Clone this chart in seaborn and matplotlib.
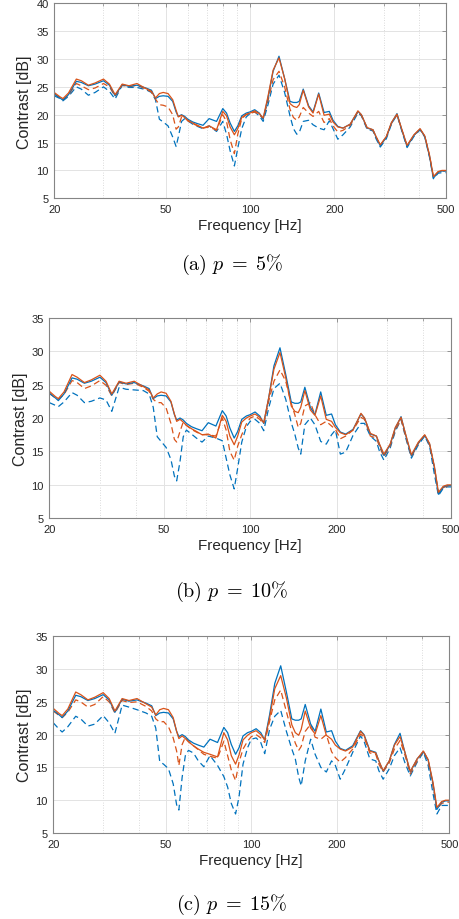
import numpy as np
import pandas as pd
import matplotlib
matplotlib.use("Agg")
import matplotlib.pyplot as plt
import seaborn as sns
from matplotlib.ticker import FixedLocator, FixedFormatter, NullFormatter

# ---------------- data ----------------
FREQ = [20, 21, 21.5, 22.5, 24, 25, 26.5, 28, 30, 31.5,
        33, 35, 37, 39.5, 42.5, 44.5, 46, 47.5, 49, 51,
        53, 54.5, 55.5, 57, 58.5, 60, 62.5, 65, 68, 71.5,
        76, 80, 82.5, 85, 88, 90.5, 93.5, 97, 100, 104,
        108, 111.5, 116, 121, 127, 133, 139, 143, 147, 150,
        155, 162, 168, 176, 184, 192, 198, 206, 215, 228,
        243, 250, 262, 275, 282, 292, 307, 320, 335, 348,
        364, 385, 405, 421, 438, 452, 470, 485, 500]

BLUE_SOLID = [23.7, 23.0, 22.6, 23.6, 26.0, 25.8, 25.2, 25.5, 26.1, 25.3,
              23.4, 25.4, 25.1, 25.3, 24.8, 24.4, 22.9, 23.3, 23.4, 23.3,
              22.4, 20.5, 19.7, 20.0, 19.7, 19.2, 18.7, 18.4, 18.1, 19.3,
              18.8, 21.1, 20.3, 18.5, 17.0, 18.0, 19.8, 20.3, 20.5, 20.9,
              20.3, 19.2, 23.0, 27.8, 30.5, 26.5, 22.4, 22.2, 22.2, 22.4,
              24.6, 21.6, 20.5, 23.9, 20.4, 20.6, 19.0, 17.9, 17.6, 18.3,
              20.6, 20.0, 17.6, 17.3, 16.0, 14.4, 16.0, 18.5, 20.2, 17.4,
              14.3, 16.3, 17.4, 16.1, 12.5, 8.6, 9.7, 9.9, 9.9]

A_ORANGE_SOLID = [24.0, 23.2, 22.9, 23.9, 26.4, 26.1, 25.3, 25.7, 26.4, 25.5,
                  23.6, 25.5, 25.2, 25.6, 24.7, 24.2, 23.0, 23.8, 24.0, 23.8,
                  22.7, 20.8, 19.6, 19.9, 19.5, 19.0, 18.5, 18.1, 17.6, 18.0,
                  17.3, 20.6, 19.8, 17.8, 16.4, 17.5, 19.5, 20.1, 20.3, 20.7,
                  20.2, 19.4, 23.3, 28.0, 30.2, 26.5, 22.0, 21.5, 21.3, 21.8,
                  24.4, 21.4, 20.3, 23.7, 19.9, 20.1, 18.7, 17.8, 17.6, 18.3,
                  20.7, 20.0, 17.7, 17.3, 16.1, 14.6, 16.1, 18.6, 20.1, 17.5,
                  14.5, 16.4, 17.5, 16.2, 12.7, 8.9, 9.8, 10.0, 10.0]
A_ORANGE_DASH = [23.8, 23.0, 22.7, 23.5, 25.6, 25.2, 24.5, 24.8, 25.6, 25.0,
                 23.3, 25.3, 25.0, 25.3, 24.6, 24.1, 22.8, 21.8, 21.7, 21.4,
                 20.0, 17.4, 17.8, 19.6, 19.5, 18.9, 18.4, 18.0, 17.6, 17.8,
                 17.2, 20.0, 18.8, 15.5, 13.0, 16.5, 19.3, 20.0, 20.2, 20.5,
                 20.0, 19.3, 22.5, 26.3, 27.8, 25.0, 21.0, 19.5, 19.0, 19.6,
                 21.3, 20.3, 19.7, 20.6, 18.6, 19.3, 18.0, 16.9, 17.2, 18.1,
                 20.5, 19.9, 17.6, 17.2, 16.0, 14.5, 16.0, 18.4, 20.0, 17.4,
                 14.4, 16.3, 17.4, 16.1, 12.6, 8.8, 9.7, 9.9, 9.9]
A_BLUE_DASH = [23.4, 22.9, 22.5, 23.3, 25.0, 24.6, 23.5, 24.0, 25.0, 24.2,
               22.8, 25.3, 24.9, 24.9, 24.5, 24.0, 22.7, 19.2, 18.7, 18.0,
               16.0, 14.3, 16.0, 18.8, 19.3, 18.9, 18.3, 17.9, 17.5, 18.0,
               17.0, 18.8, 16.5, 13.5, 10.8, 14.0, 17.5, 19.6, 20.2, 20.5,
               19.8, 18.8, 21.8, 25.5, 27.1, 24.0, 19.8, 17.5, 16.5, 16.8,
               18.8, 19.0, 18.2, 17.6, 17.3, 18.9, 17.5, 15.6, 16.4, 17.8,
               20.3, 19.8, 17.4, 17.1, 15.7, 14.2, 15.7, 18.3, 20.0, 17.2,
               14.1, 16.1, 17.3, 16.0, 12.3, 8.5, 9.5, 9.6, 9.6]

B_ORANGE_SOLID = [24.0, 23.2, 22.9, 23.9, 26.5, 26.1, 25.3, 25.7, 26.4, 25.5,
                  23.6, 25.5, 25.2, 25.5, 24.7, 24.2, 23.0, 23.6, 23.9, 23.7,
                  22.5, 20.6, 19.5, 19.8, 19.4, 18.9, 18.4, 18.0, 17.5, 17.6,
                  17.0, 20.4, 19.5, 17.3, 16.0, 17.3, 19.4, 20.0, 20.3, 20.6,
                  20.1, 19.3, 23.0, 27.3, 29.8, 26.0, 21.8, 21.0, 20.8, 21.6,
                  24.1, 21.2, 20.4, 23.3, 19.8, 19.5, 18.6, 17.8, 17.5, 18.2,
                  20.7, 20.0, 17.7, 17.3, 16.1, 14.6, 16.1, 18.6, 20.1, 17.5,
                  14.5, 16.4, 17.5, 16.2, 12.7, 8.9, 9.8, 10.0, 10.0]
B_ORANGE_DASH = [23.7, 23.0, 22.8, 23.5, 25.6, 25.3, 24.4, 24.8, 25.6, 24.9,
                 23.3, 25.3, 25.0, 25.2, 24.6, 24.0, 22.8, 22.3, 22.3, 21.5,
                 19.2, 16.8, 16.4, 18.0, 19.4, 18.9, 18.3, 17.9, 17.5, 17.5,
                 17.3, 20.0, 18.2, 15.0, 13.7, 15.8, 17.5, 19.1, 20.0, 20.3,
                 19.8, 19.1, 22.5, 25.5, 27.2, 25.5, 22.2, 20.5, 18.6, 19.2,
                 21.8, 22.3, 20.5, 19.0, 19.5, 18.8, 18.3, 16.9, 17.3, 18.2,
                 20.1, 19.8, 17.3, 17.0, 15.7, 14.2, 15.8, 18.2, 19.8, 17.2,
                 14.2, 16.2, 17.4, 16.0, 12.5, 8.8, 9.6, 9.8, 9.8]
B_BLUE_DASH = [22.3, 21.9, 21.7, 22.4, 23.8, 23.4, 22.3, 22.5, 23.0, 22.7,
               21.0, 24.6, 24.3, 24.2, 24.1, 23.6, 21.6, 17.2, 16.5, 15.6,
               13.8, 11.3, 10.6, 13.5, 17.2, 18.2, 17.6, 17.0, 16.4, 17.3,
               17.0, 16.6, 14.0, 11.5, 9.4, 12.5, 16.4, 18.7, 19.5, 19.8,
               19.2, 18.1, 21.5, 24.4, 25.2, 22.8, 19.3, 17.6, 15.5, 14.6,
               19.0, 20.0, 19.0, 16.5, 16.1, 17.5, 18.2, 14.6, 14.9, 17.4,
               19.2, 19.2, 17.3, 16.5, 15.0, 13.7, 15.5, 18.0, 19.8, 17.0,
               14.0, 16.0, 17.3, 15.8, 11.5, 8.4, 9.5, 9.7, 9.7]

C_ORANGE_SOLID = [24.0, 23.2, 22.9, 23.9, 26.5, 26.1, 25.3, 25.7, 26.4, 25.5,
                  23.6, 25.5, 25.2, 25.5, 24.7, 24.2, 23.0, 23.8, 24.0, 23.8,
                  22.6, 20.5, 19.4, 19.8, 19.4, 18.9, 18.3, 17.8, 17.3, 17.0,
                  16.6, 20.3, 19.2, 16.8, 15.5, 16.9, 19.2, 19.9, 20.3, 20.6,
                  20.0, 19.2, 22.5, 27.0, 29.0, 25.6, 21.5, 20.3, 19.9, 20.8,
                  23.6, 21.0, 20.1, 22.9, 19.9, 19.3, 18.4, 17.8, 17.5, 18.1,
                  20.5, 19.9, 17.5, 17.2, 16.0, 14.5, 16.0, 18.4, 19.7, 17.4,
                  14.4, 16.3, 17.5, 16.2, 12.7, 8.9, 9.8, 10.0, 10.0]
C_ORANGE_DASH = [23.6, 22.9, 22.6, 23.4, 25.3, 25.0, 24.2, 24.6, 25.8, 25.0,
                 23.3, 25.2, 24.9, 25.0, 24.3, 23.6, 22.4, 21.9, 22.0, 21.2,
                 19.5, 17.5, 15.3, 18.5, 19.6, 19.0, 18.3, 17.7, 17.0, 16.7,
                 16.4, 19.0, 16.8, 14.6, 13.0, 15.8, 17.8, 19.0, 19.7, 20.0,
                 19.5, 18.8, 22.0, 25.3, 26.8, 23.5, 20.4, 18.7, 17.6, 18.2,
                 20.5, 21.6, 19.6, 19.3, 20.0, 17.4, 16.5, 15.8, 16.5, 17.8,
                 20.1, 19.6, 17.2, 17.0, 15.5, 14.3, 15.7, 17.8, 19.1, 17.0,
                 14.0, 16.0, 17.5, 16.0, 12.2, 8.7, 9.5, 9.7, 9.7]
C_BLUE_DASH = [21.8, 20.8, 20.4, 21.2, 22.8, 22.4, 21.3, 21.6, 22.9, 21.8,
               20.2, 24.5, 24.2, 23.8, 23.3, 22.8, 21.0, 15.9, 15.5, 14.8,
               12.5, 9.3, 8.5, 13.5, 16.8, 17.6, 17.2, 16.0, 15.1, 16.8,
               15.3, 13.6, 12.0, 9.5, 7.9, 10.5, 15.5, 18.0, 19.3, 19.5,
               18.8, 17.1, 20.8, 22.8, 23.7, 20.5, 17.8, 16.3, 13.5, 12.2,
               16.0, 19.3, 17.0, 15.0, 14.3, 16.0, 15.3, 13.2, 14.8, 17.3,
               19.8, 19.0, 16.3, 16.0, 14.5, 13.2, 14.8, 16.8, 18.0, 15.8,
               13.7, 15.8, 17.3, 15.3, 11.0, 7.9, 9.2, 9.2, 9.2]

CAPTIONS = [r"$\mathrm{(a)}\ p\;=\;5\%$", r"$\mathrm{(b)}\ p\;=\;10\%$", r"$\mathrm{(c)}\ p\;=\;15\%$"]
Y_TOPS = [40, 35, 35]
X_TICKS = [20, 50, 100, 200, 500]
X_MINOR = [30, 40, 60, 70, 80, 90, 300, 400]

# ---------------- style ----------------
sns.set_theme(style="white")
plt.rcParams["font.family"] = ["Liberation Sans", "DejaVu Sans"]
plt.rcParams["mathtext.fontset"] = "cm"

BLUE = "#0072BD"
ORANGE = "#D95319"
AX_COL = "#858585"
TXT = "#262626"

fig = plt.figure(figsize=(4.59, 9.2), dpi=100)
positions = [
    [0.118, 0.7834, 0.853, 0.2119],
    [0.1074, 0.4355, 0.8752, 0.2181],
    [0.1161, 0.0935, 0.8628, 0.2138],
]
caption_y = [1 - 265 / 920, 1 - 592 / 920, 1 - 905 / 920]
ylabel_x = [25 / 459, 21 / 459, 25 / 459]

panels = [
    (A_ORANGE_SOLID, A_ORANGE_DASH, A_BLUE_DASH),
    (B_ORANGE_SOLID, B_ORANGE_DASH, B_BLUE_DASH),
    (C_ORANGE_SOLID, C_ORANGE_DASH, C_BLUE_DASH),
]

for i, (osol, odash, bdash) in enumerate(panels):
    ax = fig.add_axes(positions[i])
    ax.set_xscale("log")
    df = pd.DataFrame({"f": FREQ, "bs": BLUE_SOLID, "os": osol, "od": odash, "bd": bdash})
    sns.lineplot(data=df, x="f", y="bd", ax=ax, color=BLUE, lw=0.9,
                 linestyle=(0, (5, 3)))
    sns.lineplot(data=df, x="f", y="od", ax=ax, color=ORANGE, lw=0.9,
                 linestyle=(0, (5, 3)))
    sns.lineplot(data=df, x="f", y="bs", ax=ax, color=BLUE, lw=0.9)
    sns.lineplot(data=df, x="f", y="os", ax=ax, color=ORANGE, lw=0.9)

    ax.set_xlim(20, 500)
    ax.set_ylim(5, Y_TOPS[i])
    ax.xaxis.set_major_locator(FixedLocator(X_TICKS))
    ax.xaxis.set_major_formatter(FixedFormatter([str(t) for t in X_TICKS]))
    ax.xaxis.set_minor_locator(FixedLocator(X_MINOR))
    ax.xaxis.set_minor_formatter(NullFormatter())
    ax.set_yticks(np.arange(5, Y_TOPS[i] + 1, 5))

    ax.grid(True, which="major", color="#e3e3e3", lw=0.7, ls="-")
    ax.grid(True, which="minor", axis="x", color="#cfcfcf", lw=0.6, ls=(0, (1, 2)))
    ax.set_axisbelow(True)

    for s in ax.spines.values():
        s.set_visible(True)
        s.set_color(AX_COL)
        s.set_linewidth(0.8)
    ax.tick_params(which="both", direction="in", top=True, right=True,
                   color=AX_COL, labelcolor=TXT, labelsize=8, pad=4)
    ax.tick_params(which="major", length=3, width=0.6)
    ax.tick_params(which="minor", length=2, width=0.5)

    ax.set_xlabel("Frequency [Hz]", fontsize=11, color=TXT, labelpad=3)
    ax.set_ylabel("")
    fig.text(ylabel_x[i], positions[i][1] + positions[i][3] / 2, "Contrast [dB]",
             rotation=90, ha="center", va="center", fontsize=11.5, color=TXT)
    fig.text(0.505, caption_y[i], CAPTIONS[i], ha="center", va="center",
             fontsize=14.5, color="black")

fig.savefig("out.png", dpi=100, facecolor="white")
